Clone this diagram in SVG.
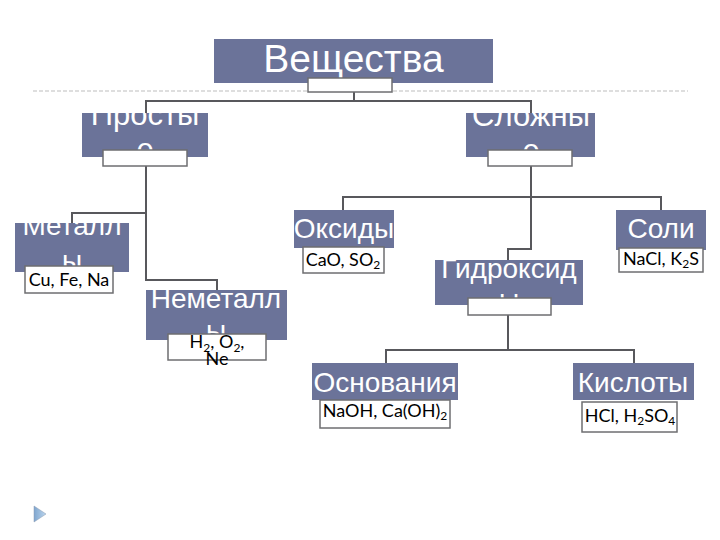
<svg xmlns="http://www.w3.org/2000/svg" width="720" height="540" viewBox="0 0 720 540">
<style>
.box{fill:#6b7399}
.lbl{fill:#ffffff;stroke:#6e6e70;stroke-width:1.5}
.big{font-family:"Liberation Sans",Arial,sans-serif;fill:#ffffff;text-anchor:middle}
.sm{font-family:Lato,"Liberation Sans",sans-serif;font-size:18px;fill:#000000;text-anchor:middle}
.sub{font-size:12px}
.con{fill:none;stroke:#58585c;stroke-width:2}
</style>
<defs>
<clipPath id="c1"><rect x="214" y="39" width="279" height="44"/></clipPath>
<clipPath id="c2"><rect x="82" y="113" width="126" height="44"/></clipPath>
<clipPath id="c3"><rect x="466" y="113" width="129" height="44"/></clipPath>
<clipPath id="c4"><rect x="15" y="223" width="114" height="49"/></clipPath>
<clipPath id="c5"><rect x="146" y="290" width="141" height="44"/></clipPath>
<clipPath id="c6"><rect x="435" y="260" width="148" height="38"/></clipPath>
<linearGradient id="tri" x1="0" y1="0" x2="1" y2="0"><stop offset="0" stop-color="#7fa6cf"/><stop offset="1" stop-color="#bcd6ee"/></linearGradient>
</defs>
<rect width="720" height="540" fill="#ffffff"/>
<line x1="33" y1="91" x2="688" y2="91" stroke="#bdbdbd" stroke-width="1" stroke-dasharray="4 2"/>
<g id="connectors">
<path class="con" d="M354,92 V101 M146,113 V101 H531 V113"/>
<path class="con" d="M146,166 V280 H217 V290 M72,223 V213 H146"/>
<path class="con" d="M531,166 V197 M343,210 V197 H661 V210 M531,197 V249 H508 V260"/>
<path class="con" d="M508,315 V350 M386,363 V350 H634 V363"/>
</g>
<g id="node-veshchestva">
<rect class="box" x="214" y="39" width="279" height="44"/>
<text class="big" x="353.5" y="72" font-size="39" clip-path="url(#c1)">Вещества</text>
<rect class="lbl" x="308" y="78" width="84" height="14"/>
</g>
<g id="node-prostye">
<rect class="box" x="82" y="113" width="126" height="44"/>
<text class="big" font-size="31" clip-path="url(#c2)"><tspan x="145" y="125">Просты</tspan><tspan x="145" y="160">е</tspan></text>
<rect class="lbl" x="103" y="150" width="84" height="16"/>
</g>
<g id="node-slozhnye">
<rect class="box" x="466" y="113" width="129" height="44"/>
<text class="big" font-size="31" clip-path="url(#c3)"><tspan x="531" y="126">Сложны</tspan><tspan x="531" y="161">е</tspan></text>
<rect class="lbl" x="488" y="150" width="84" height="16"/>
</g>
<g id="node-metally">
<rect class="box" x="15" y="223" width="114" height="49"/>
<text class="big" font-size="28" clip-path="url(#c4)"><tspan x="72" y="235">Металл</tspan><tspan x="72" y="270">ы</tspan></text>
<rect class="lbl" x="25" y="266" width="88" height="27"/>
<text class="sm" x="69" y="286">Cu, Fe, Na</text>
</g>
<g id="node-nemetally">
<rect class="box" x="146" y="290" width="141" height="50"/>
<text class="big" font-size="28" clip-path="url(#c5)"><tspan x="216" y="308">Неметалл</tspan><tspan x="216" y="340">ы</tspan></text>
<rect class="lbl" x="168" y="334" width="98" height="26"/>
<text class="sm" x="217" y="348" font-size="20">H<tspan class="sub" dy="4">2</tspan><tspan dy="-4">, O</tspan><tspan class="sub" dy="4">2</tspan><tspan dy="-4">,</tspan></text>
<text class="sm" x="217" y="365" font-size="20">Ne</text>
</g>
<g id="node-oksidy">
<rect class="box" x="294" y="210" width="100" height="38"/>
<text class="big" x="344" y="238" font-size="28">Оксиды</text>
<rect class="lbl" x="303" y="247" width="81" height="26"/>
<text class="sm" x="343" y="266">CaO, SO<tspan class="sub" dy="3">2</tspan></text>
</g>
<g id="node-gidroksidy">
<rect class="box" x="435" y="260" width="148" height="45"/>
<text class="big" font-size="28" clip-path="url(#c6)"><tspan x="509" y="278">Гидроксид</tspan><tspan x="509" y="309">ы</tspan></text>
<rect class="lbl" x="468" y="298" width="83" height="17"/>
</g>
<g id="node-soli">
<rect class="box" x="616" y="210" width="90" height="40"/>
<text class="big" x="661" y="238" font-size="28">Соли</text>
<rect class="lbl" x="619" y="248" width="84" height="24"/>
<text class="sm" x="661" y="265">NaCl, K<tspan class="sub" dy="3">2</tspan><tspan dy="-3">S</tspan></text>
</g>
<g id="node-osnovaniya">
<rect class="box" x="312" y="363" width="146" height="37"/>
<text class="big" x="385" y="392" font-size="28">Основания</text>
<rect class="lbl" x="320" y="400" width="130" height="28"/>
<text class="sm" x="385" y="417">NaOH, Ca(OH)<tspan class="sub" dy="3">2</tspan></text>
</g>
<g id="node-kisloty">
<rect class="box" x="573" y="363" width="121" height="37"/>
<text class="big" x="633" y="392" font-size="28">Кислоты</text>
<rect class="lbl" x="582" y="402" width="95" height="30"/>
<text class="sm" x="630" y="422">HCl, H<tspan class="sub" dy="3">2</tspan><tspan dy="-3">SO</tspan><tspan class="sub" dy="3">4</tspan></text>
</g>
<polygon points="34,506 46,514 34,522" fill="url(#tri)" stroke="#8a9ab0" stroke-width="0.5"/>
</svg>
